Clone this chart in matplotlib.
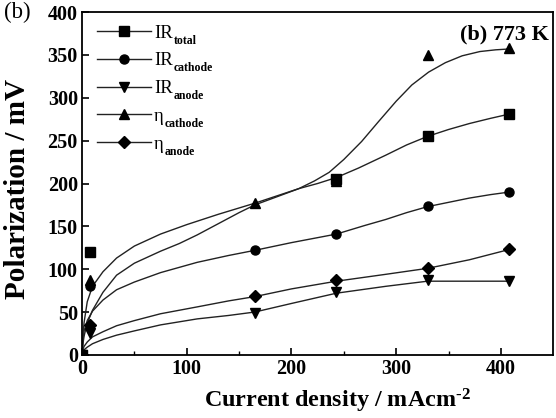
import numpy as np
import matplotlib.pyplot as plt
from matplotlib.lines import Line2D

plt.rcParams['font.family'] = ['Liberation Serif', 'DejaVu Serif']
plt.rcParams['mathtext.fontset'] = 'custom'
plt.rcParams['mathtext.rm'] = 'Liberation Serif'
plt.rcParams['mathtext.it'] = 'Liberation Serif:italic'
plt.rcParams['mathtext.bf'] = 'Liberation Serif:bold'

# measured points (current density mA/cm2, polarization mV)
x_pts = [0, 8, 165, 243, 330, 408]
ir_total_x = [0, 8, 243, 330, 408]
ir_total_y = [0, 120, 205, 256, 281]
ir_cathode_y = [0, 80, 122, 141, 174, 190]
ir_anode_y = [0, 26, 49, 73, 87, 86]
eta_cathode_y = [0, 87, 177, 203, 350, 358]
eta_anode_y = [0, 35, 69, 87, 101, 124]

# fitted curves
fit_total_x = [0, 1, 2, 5, 10, 20, 33, 50, 75, 100, 130, 165, 207, 225, 243, 264, 290, 310, 330, 350, 370, 390, 408]
fit_total_y = [0, 25, 38, 62, 80, 97, 113, 127, 141, 152, 164, 177, 194, 200, 207, 218, 233, 245, 255, 263, 270, 276, 281]
fit_etac_x = [0, 1, 2, 5, 10, 20, 33, 50, 75, 93, 110, 130, 150, 165, 185, 207, 222, 236, 250, 267, 283,
              300, 315, 331, 347, 363, 380, 395, 408]
fit_etac_y = [0, 14, 22, 37, 52, 73, 93, 107, 121, 130, 140, 153, 166, 175, 184, 194, 203, 213, 228, 249, 272,
              296, 315, 330, 341, 349, 354, 356, 357]
fit_irc_x = [0, 1, 2, 5, 10, 20, 33, 50, 75, 110, 140, 165, 200, 243, 270, 290, 310, 330, 350, 370, 390, 408]
fit_irc_y = [0, 18, 28, 40, 51, 64, 76, 85, 96, 108, 116, 122, 131, 141, 151, 158, 166, 173, 178, 183, 187, 190]
fit_etaa_x = [0, 1, 2, 5, 10, 20, 33, 50, 75, 110, 140, 165, 200, 243, 290, 330, 370, 408]
fit_etaa_y = [0, 7, 10, 15, 21, 27, 34, 40, 48, 56, 63, 68, 77, 86, 94, 101, 111, 123]
fit_ira_x = [0, 1, 2, 5, 10, 20, 33, 50, 75, 110, 140, 165, 200, 243, 290, 330, 370, 408]
fit_ira_y = [0, 4, 6, 9, 13, 18, 23, 28, 35, 42, 46, 50, 60, 72, 80, 86, 86, 86]

leg_main = ['IR', 'IR', 'IR', 'η', 'η']
leg_sub = ['total', 'cathode', 'anode', 'cathode', 'anode']

fig = plt.figure(figsize=(5.56, 4.18), dpi=100)
ax = fig.add_axes([0.1475, 0.151, 0.8475, 0.820])

lc = '#222222'
ms = 6.5
ax.plot(fit_total_x, fit_total_y, color=lc, lw=1)
ax.plot(fit_etac_x, fit_etac_y, color=lc, lw=1)
ax.plot(fit_irc_x, fit_irc_y, color=lc, lw=1)
ax.plot(fit_etaa_x, fit_etaa_y, color=lc, lw=1)
ax.plot(fit_ira_x, fit_ira_y, color=lc, lw=1)

ax.plot(ir_total_x, ir_total_y, 's', color='k', ms=ms)
ax.plot(x_pts, ir_cathode_y, 'o', color='k', ms=ms)
ax.plot(x_pts, ir_anode_y, 'v', color='k', ms=ms + 0.5)
ax.plot(x_pts, eta_cathode_y, '^', color='k', ms=ms + 0.5)
ax.plot(x_pts, eta_anode_y, 'D', color='k', ms=ms - 0.5)

handles = [
    Line2D([], [], color=lc, lw=1, marker='s', mfc='k', mec='k', ms=ms),
    Line2D([], [], color=lc, lw=1, marker='o', mfc='k', mec='k', ms=ms),
    Line2D([], [], color=lc, lw=1, marker='v', mfc='k', mec='k', ms=ms + 0.5),
    Line2D([], [], color=lc, lw=1, marker='^', mfc='k', mec='k', ms=ms + 0.5),
    Line2D([], [], color=lc, lw=1, marker='D', mfc='k', mec='k', ms=ms - 0.5),
]
leg = ax.legend(handles, leg_main, loc='upper left', frameon=False, fontsize=13.5,
                handlelength=2.9, labelspacing=0.57, handletextpad=0.15,
                bbox_to_anchor=(0.0, 1.008), borderaxespad=0.4)

ax.set_xlim(0, 450)
ax.set_ylim(0, 400)
ax.set_xticks([0, 100, 200, 300, 400])
ax.set_xticks([50, 150, 250, 350], minor=True)
ax.set_yticks(np.arange(0, 401, 50))
ax.tick_params(direction='in', length=5, width=1.2, labelsize=14.5, pad=3)
ax.tick_params(which='minor', direction='in', length=3, width=1)
for lab in ax.get_xticklabels() + ax.get_yticklabels():
    lab.set_fontweight('bold')
for sp in ax.spines.values():
    sp.set_linewidth(1.3)

ax.set_xlabel('Current density / mAcm$^{\\mathbf{\u2010 2}}$', fontsize=17.4, fontweight='bold')
ax.xaxis.set_label_coords(0.541, -0.092)
ax.set_ylabel('Polarization / mV', fontsize=21, fontweight='bold')
ax.yaxis.set_label_coords(-0.108, 0.485)

ax.text(0.99, 0.965, '(b) 773 K', transform=ax.transAxes, ha='right', va='top',
        fontsize=16, fontweight='bold')
fig.text(0.008, 0.995, '(b)', ha='left', va='top', fontsize=16.5)

# subscripts placed under the legend labels
fig.canvas.draw()
W, H = fig.bbox.width, fig.bbox.height
for t, s in zip(leg.get_texts(), leg_sub):
    bb = t.get_window_extent()
    fig.text((bb.x1 + 1) / W, (bb.y0 - 2) / H, s, fontsize=8.5, fontweight='bold',
             ha='left', va='baseline')

fig.savefig('out.png', dpi=100)
